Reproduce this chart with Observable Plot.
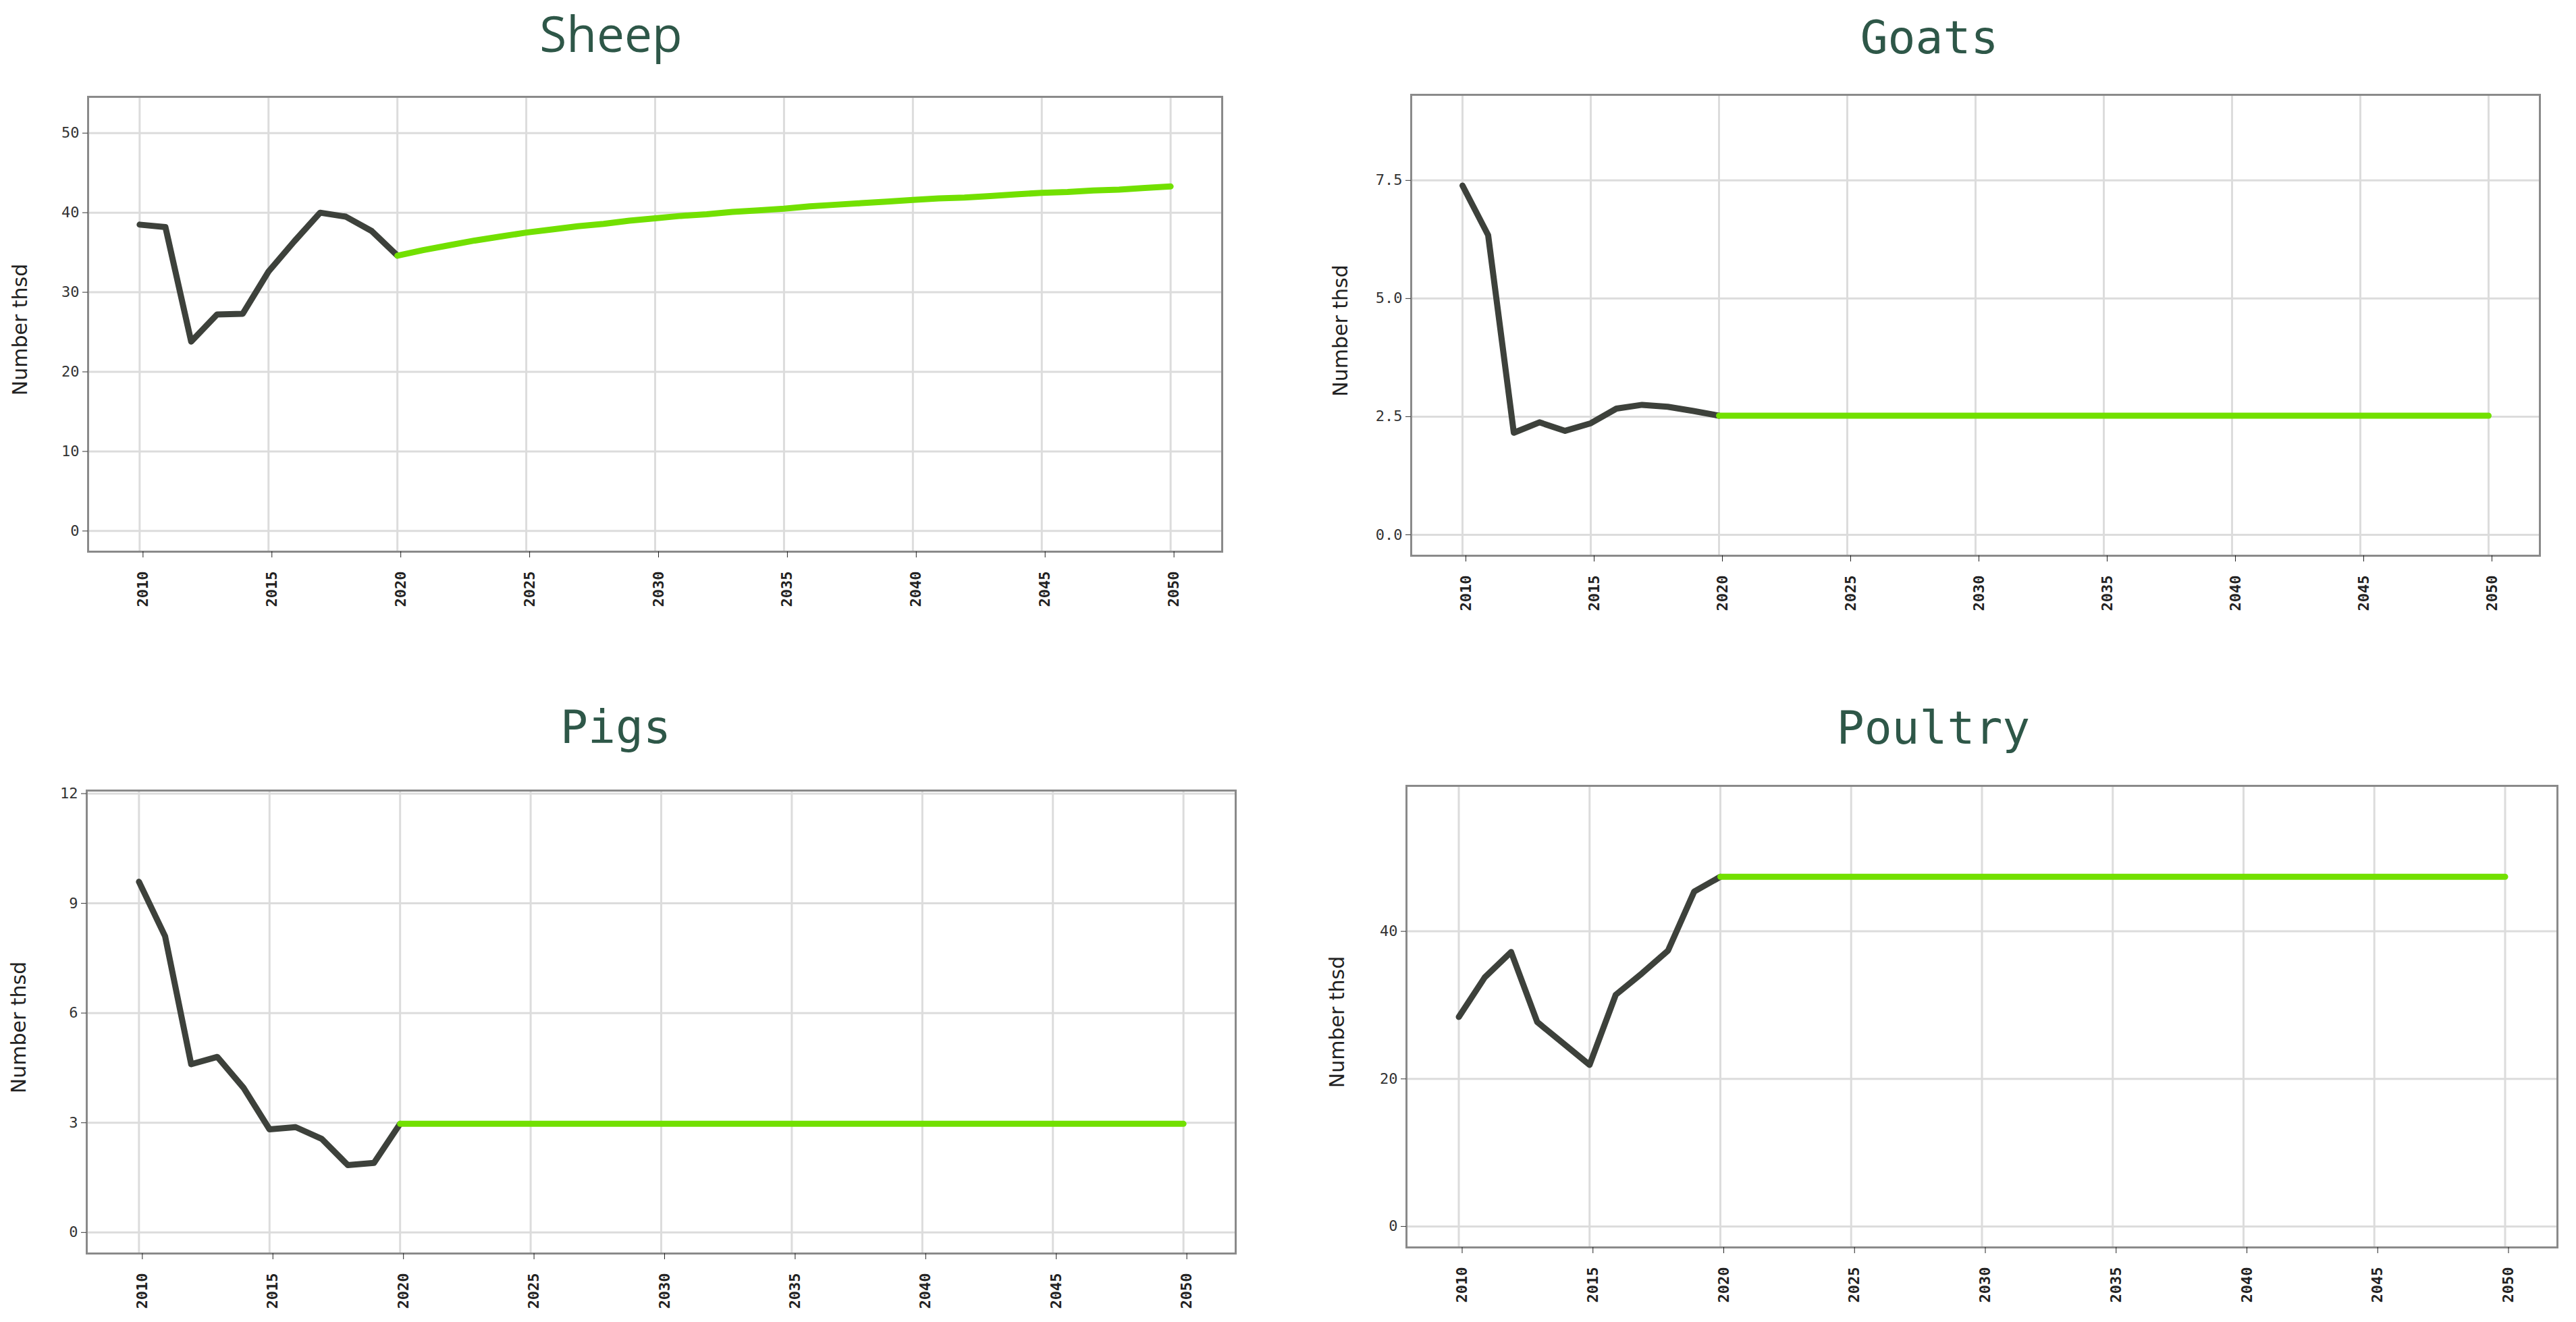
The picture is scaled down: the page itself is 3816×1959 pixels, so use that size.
<!DOCTYPE html>
<html>
<head>
<meta charset="utf-8">
<script src="https://cdn.jsdelivr.net/npm/d3@7"></script>
<script src="https://cdn.jsdelivr.net/npm/@observablehq/plot@0.6"></script>
<style>
  html, body { margin: 0; padding: 0; background: #fff; }
  #page { position: relative; width: 3816px; height: 1959px; background: #fff; overflow: hidden; }
  .title { position: absolute; line-height: 1; white-space: nowrap; color: #2E5748; transform: translateX(-50%); }
  .panel { position: absolute; }
</style>
</head>
<body>
<div id="page"></div>
<script>
// ---------- data ----------
const titles = ["Sheep", "Goats", "Pigs", "Poultry"];
const y_label = "Number thsd";
const x_ticks = [2010, 2015, 2020, 2025, 2030, 2035, 2040, 2045, 2050];

const years_hist = [2010, 2011, 2012, 2013, 2014, 2015, 2016, 2017, 2018, 2019, 2020];
const years_proj = [2020, 2021, 2022, 2023, 2024, 2025, 2026, 2027, 2028, 2029, 2030,
                    2031, 2032, 2033, 2034, 2035, 2036, 2037, 2038, 2039, 2040,
                    2041, 2042, 2043, 2044, 2045, 2046, 2047, 2048, 2049, 2050];

const sheep_hist = [38.5, 38.2, 23.8, 27.2, 27.3, 32.6, 36.4, 40.0, 39.5, 37.7, 34.6];
const sheep_proj = [34.6, 35.3, 35.9, 36.5, 37.0, 37.5, 37.9, 38.3, 38.6, 39.0, 39.3,
                    39.6, 39.8, 40.1, 40.3, 40.5, 40.8, 41.0, 41.2, 41.4, 41.6,
                    41.8, 41.9, 42.1, 42.3, 42.5, 42.6, 42.8, 42.9, 43.1, 43.3];

const goats_hist = [7.39, 6.34, 2.16, 2.38, 2.20, 2.36, 2.67, 2.75, 2.71, 2.62, 2.52];
const goats_proj = [2.52, 2.52, 2.52, 2.52, 2.52, 2.52, 2.52, 2.52, 2.52, 2.52, 2.52,
                    2.52, 2.52, 2.52, 2.52, 2.52, 2.52, 2.52, 2.52, 2.52, 2.52,
                    2.52, 2.52, 2.52, 2.52, 2.52, 2.52, 2.52, 2.52, 2.52, 2.52];

const pigs_hist = [9.59, 8.10, 4.60, 4.80, 3.96, 2.82, 2.88, 2.56, 1.84, 1.90, 2.97];
const pigs_proj = [2.97, 2.97, 2.97, 2.97, 2.97, 2.97, 2.97, 2.97, 2.97, 2.97, 2.97,
                   2.97, 2.97, 2.97, 2.97, 2.97, 2.97, 2.97, 2.97, 2.97, 2.97,
                   2.97, 2.97, 2.97, 2.97, 2.97, 2.97, 2.97, 2.97, 2.97, 2.97];

const poultry_hist = [28.4, 33.8, 37.2, 27.7, 24.8, 21.9, 31.4, 34.3, 37.4, 45.4, 47.4];
const poultry_proj = [47.4, 47.4, 47.4, 47.4, 47.4, 47.4, 47.4, 47.4, 47.4, 47.4, 47.4,
                      47.4, 47.4, 47.4, 47.4, 47.4, 47.4, 47.4, 47.4, 47.4, 47.4,
                      47.4, 47.4, 47.4, 47.4, 47.4, 47.4, 47.4, 47.4, 47.4, 47.4];

const sheep_ticks = [0, 10, 20, 30, 40, 50];
const goats_ticks = [0, 2.5, 5.0, 7.5];
const pigs_ticks = [0, 3, 6, 9, 12];
const poultry_ticks = [0, 20, 40];

// ---------- layout (page pixel positions) ----------
const panels = [
  {title: titles[0], hist: sheep_hist, proj: sheep_proj, ticks: sheep_ticks, fmt: "d",
   x0: 0, l: 130, r: 1810, t: 143, b: 817, lx: 30, tx: 905, tTop: 12, tFont: "'Open Sans', sans-serif", tSize: 73},
  {title: titles[1], hist: goats_hist, proj: goats_proj, ticks: goats_ticks, fmt: ".1f",
   x0: 1900, l: 2090, r: 3762, t: 140, b: 823, lx: 1986, tx: 2858, tTop: 22, tFont: "'DejaVu Sans Mono', monospace", tSize: 68},
  {title: titles[2], hist: pigs_hist, proj: pigs_proj, ticks: pigs_ticks, fmt: "d",
   x0: 0, l: 128, r: 1830, t: 1171, b: 1857, lx: 28, tx: 912, tTop: 1044, tFont: "'DejaVu Sans Mono', monospace", tSize: 68},
  {title: titles[3], hist: poultry_hist, proj: poultry_proj, ticks: poultry_ticks, fmt: "d",
   x0: 1900, l: 2083, r: 3788, t: 1164, b: 1848, lx: 1981, tx: 2864, tTop: 1045, tFont: "'DejaVu Sans Mono', monospace", tSize: 68}
];

const page = document.getElementById("page");

for (const p of panels) {
  const hist = years_hist.map((yr, i) => ({year: yr, value: p.hist[i]}));
  const proj = years_proj.map((yr, i) => ({year: yr, value: p.proj[i]}));
  const maxV = d3.max([...p.hist, ...p.proj]);
  const top = 1.2 * maxV;
  const pad = 0.05 * top;

  const mTop = 40, mRight = 20, mBottom = 110;
  const svgTop = p.t - mTop;
  const width = p.r + mRight - p.x0;
  const height = p.b + mBottom - svgTop;

  const chart = Plot.plot({
    width, height,
    marginLeft: p.l - p.x0, marginRight: mRight, marginTop: mTop, marginBottom: mBottom,
    style: {background: "transparent", overflow: "visible"},
    x: {domain: [2008, 2052]},
    y: {domain: [-pad, top + pad]},
    marks: [
      Plot.gridX(x_ticks, {stroke: "#dcdcdc", strokeOpacity: 1, strokeWidth: 3}),
      Plot.gridY(p.ticks, {stroke: "#dcdcdc", strokeOpacity: 1, strokeWidth: 3}),
      Plot.frame({stroke: "#8a8a8a", strokeWidth: 3}),
      Plot.axisX({ticks: x_ticks, tickFormat: "d", tickRotate: -90, tickSize: 9, tickPadding: 20,
                  fontSize: 22, fontFamily: "DejaVu Sans Mono", fontWeight: "bold", color: "#222", dx: 5, label: null}),
      Plot.axisY({ticks: p.ticks, tickFormat: d3.format(p.fmt), tickSize: 8, tickPadding: 5,
                  fontSize: 22, fontFamily: "DejaVu Sans Mono", color: "#333", label: null}),
      Plot.text([y_label], {frameAnchor: "left", text: d => d, rotate: -90, textAnchor: "middle", lineAnchor: "middle",
                  dx: -(p.l - p.lx), dy: 8,
                  fontSize: 30, fontFamily: "DejaVu Sans", fill: "#222"}),
      Plot.line(hist, {x: "year", y: "value", stroke: "#3d413b", strokeWidth: 9, strokeLinejoin: "round"}),
      Plot.line(proj, {x: "year", y: "value", stroke: "#72e000", strokeWidth: 9})
    ]
  });

  const div = document.createElement("div");
  div.className = "panel";
  div.style.left = p.x0 + "px";
  div.style.top = svgTop + "px";
  div.appendChild(chart);
  page.appendChild(div);

  const t = document.createElement("div");
  t.className = "title";
  t.textContent = p.title;
  t.style.left = p.tx + "px";
  t.style.top = p.tTop + "px";
  t.style.fontFamily = p.tFont;
  t.style.fontSize = p.tSize + "px";
  page.appendChild(t);
}
</script>
</body>
</html>
